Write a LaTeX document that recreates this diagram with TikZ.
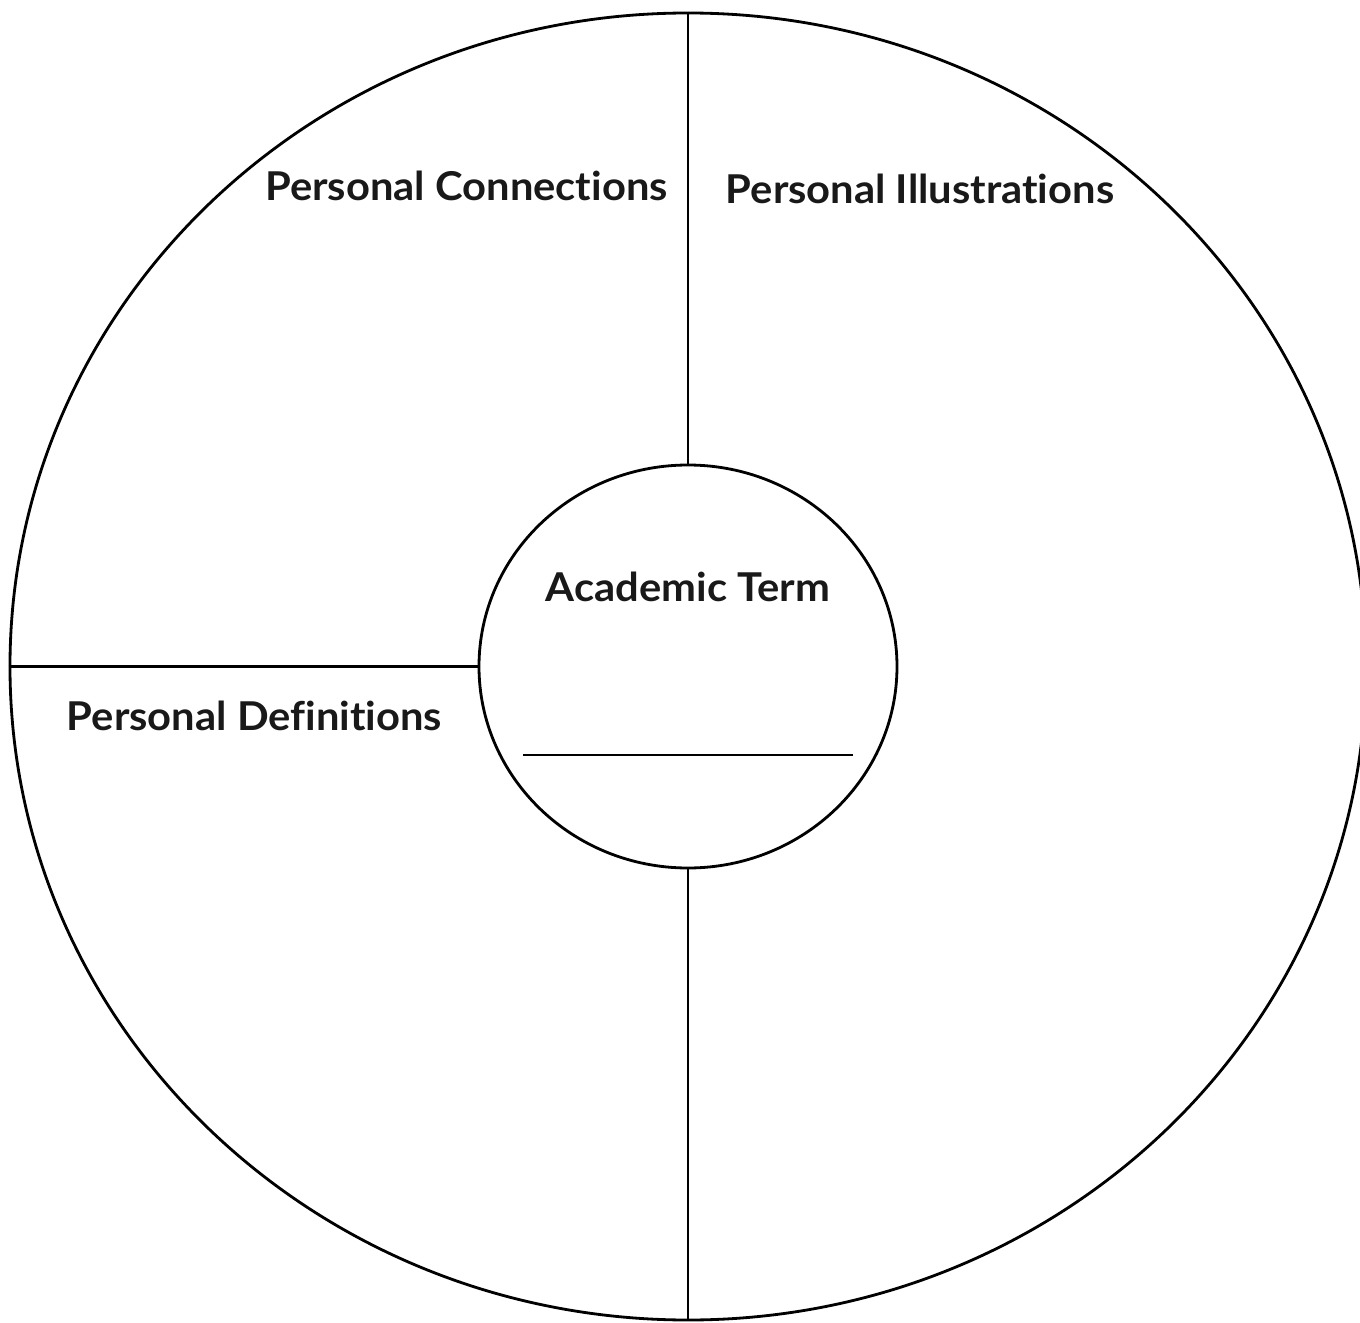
\documentclass[tikz,border=0pt]{standalone}
\usepackage{fontspec}
\setmainfont{Lato}[Ligatures={NoCommon}, FakeStretch=1.05]
\usetikzlibrary{shapes.geometric, positioning}

\begin{document}
\begin{tikzpicture}[
    ring/.style={ellipse, draw, line width=0.8pt, inner sep=0pt},
    divider/.style={line width=0.8pt},
    label/.style={font=\fontsize{11.3}{13}\selectfont\bfseries, inner sep=0pt, text=black!90}
]
\useasboundingbox (-6.88,-6.555) rectangle (6.72,6.665);
\clip (-6.88,-6.555) rectangle (6.72,6.665);

\node[ring, minimum width=13.56cm, minimum height=13.07cm] (outer) at (0,0) {};
\node[ring, minimum width=4.18cm, minimum height=4.03cm] (term) at (0,0) {};

% spokes between the two rings
\draw[divider] (outer.north) -- (term.north);
\draw[divider] (term.south) -- (outer.south);
\draw[divider] (outer.west) -- (term.west);

% writing line inside the centre
\coordinate (lineL) at (-1.65,-0.885);
\coordinate (lineR) at (1.65,-0.885);
\draw[divider] (lineL) -- (lineR);

\node[label, anchor=base] (termtxt) at (0,0.648) {Academic Term};
\node[label, anchor=base] (conn) at (-2.215,4.66) {Personal Connections};
\node[label, anchor=base] (illu) at (2.32,4.63) {Personal Illustrations};
\node[label, anchor=base] (defn) at (-4.335,-0.64) {Personal Definitions};

\end{tikzpicture}
\end{document}
